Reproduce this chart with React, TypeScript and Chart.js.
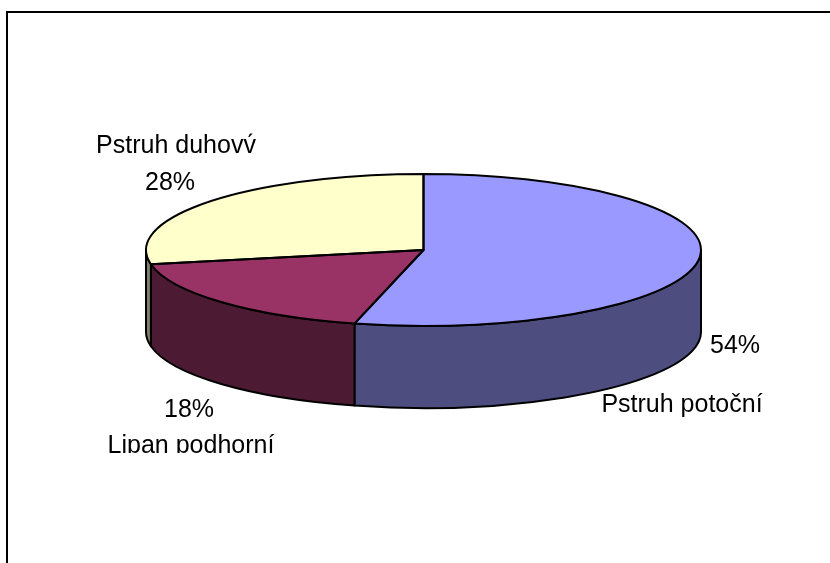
import React, { useEffect, useRef } from "react";
import { Chart, registerables } from "chart.js";

Chart.register(...registerables);

const categories = ["Pstruh potoční", "Lipan podhorní", "Pstruh duhovv́"];
const values = [54, 18, 28];
const topColors = ["#9999FF", "#993366", "#FFFFCC"];
const sideColors = ["#4D4D80", "#4D1A33", "#808066"];

const CX = 423.5;
const CY = 250;
const RX = 277.5;
const RY = 76;
const DEPTH = 82;
const LINE = 2;
const FONT = "25px 'Liberation Sans', Arial, sans-serif";

const labelLayout = [
  { lines: ["54%", categories[0]], xs: [735, 682], ys: [353, 412] },
  { lines: ["18%", categories[1]], xs: [189, 191], ys: [417, 453] },
  { lines: [categories[2], "28%"], xs: [176, 170], ys: [153, 190] },
];

const pie3d = {
  id: "pie3d",
  beforeDraw(chart: any) {
    const { ctx, width, height } = chart;
    ctx.save();
    ctx.fillStyle = "#FFFFFF";
    ctx.fillRect(0, 0, width, height);
    ctx.fillStyle = "#000000";
    ctx.fillRect(6, 11, 2, height - 11);
    ctx.fillRect(6, 11, width - 6, 2);
    ctx.restore();
  },
  beforeDatasetsDraw(chart: any) {
    const { ctx } = chart;
    const arcs = chart.getDatasetMeta(0).data;
    const cy0 = (chart.chartArea.top + chart.chartArea.bottom) / 2;
    arcs.forEach((arc: any, i: number) => {
      const s = Math.max(arc.startAngle, 0);
      const e = Math.min(arc.endAngle, Math.PI);
      if (e <= s) return;
      ctx.save();
      ctx.beginPath();
      ctx.ellipse(CX, CY, RX, RY, 0, s, e, false);
      ctx.lineTo(CX + RX * Math.cos(e), CY + RY * Math.sin(e) + DEPTH);
      ctx.ellipse(CX, CY + DEPTH, RX, RY, 0, e, s, true);
      ctx.closePath();
      ctx.fillStyle = sideColors[i];
      ctx.fill();
      ctx.strokeStyle = "#000000";
      ctx.lineWidth = LINE;
      ctx.lineJoin = "round";
      ctx.stroke();
      ctx.restore();
    });
    ctx.save();
    ctx.translate(CX, CY);
    ctx.scale(1, RY / RX);
    ctx.translate(-CX, -cy0);
  },
  afterDatasetsDraw(chart: any) {
    const { ctx } = chart;
    ctx.restore();
    chart.getDatasetMeta(0).data.forEach((arc: any) => {
      ctx.save();
      ctx.beginPath();
      ctx.moveTo(CX, CY);
      ctx.ellipse(CX, CY, RX, RY, 0, arc.startAngle, arc.endAngle, false);
      ctx.closePath();
      ctx.strokeStyle = "#000000";
      ctx.lineWidth = LINE;
      ctx.lineJoin = "round";
      ctx.stroke();
      ctx.restore();
    });
    ctx.save();
    ctx.beginPath();
    ctx.rect(0, 0, chart.width, 453);
    ctx.clip();
    ctx.fillStyle = "#000000";
    ctx.font = FONT;
    ctx.textAlign = "center";
    ctx.textBaseline = "alphabetic";
    labelLayout.forEach((b) => {
      b.lines.forEach((t, i) => ctx.fillText(t, b.xs[i], b.ys[i]));
    });
    ctx.restore();
  },
};

export default function App() {
  const ref = useRef<HTMLCanvasElement>(null);
  useEffect(() => {
    document.body.style.margin = "0";
    const chart = new Chart(ref.current!, {
      type: "pie",
      data: {
        labels: categories,
        datasets: [
          {
            data: values,
            backgroundColor: topColors,
            borderWidth: 0,
          },
        ],
      },
      options: {
        responsive: false,
        animation: false,
        devicePixelRatio: 1,
        layout: { padding: { left: 146, right: 129, top: 4, bottom: 4 } },
        plugins: { legend: { display: false }, tooltip: { enabled: false }, title: { display: false } },
      },
      plugins: [pie3d],
    });
    return () => chart.destroy();
  }, []);
  return (
    <div style={{ width: 830, height: 563, overflow: "hidden" }}>
      <canvas ref={ref} width={830} height={563} style={{ display: "block" }} />
    </div>
  );
}
